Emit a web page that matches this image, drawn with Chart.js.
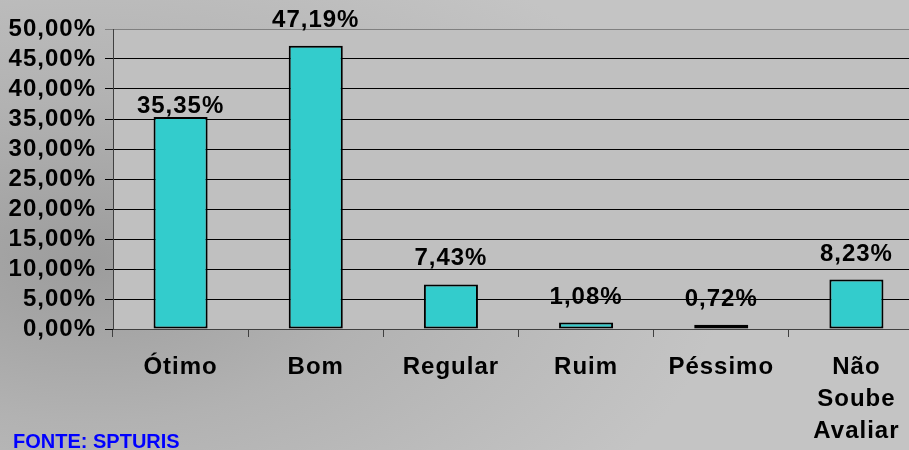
<!DOCTYPE html>
<html>
<head>
<meta charset="utf-8">
<script src="https://cdn.jsdelivr.net/npm/chart.js@4"></script>
<style>
  html, body { margin: 0; padding: 0; width: 909px; height: 450px; overflow: hidden; }
  #wrap { position: relative; width: 909px; height: 450px; overflow: hidden;
    background: radial-gradient(ellipse 70% 80% at 10% 58%, #9c9c9c 0%, #b2b2b2 45%, #c4c4c4 100%); }
  #c { position: absolute; left: 0; top: 0; }
  #fonte { position: absolute; left: 13px; top: 431px; font: bold 20px "Liberation Sans", Arial, sans-serif;
    line-height: 20px; color: #0000ff; letter-spacing: 0px; white-space: nowrap; }
</style>
</head>
<body>
<div id="wrap">
  <canvas id="c" width="924" height="450"></canvas>
  <div id="fonte">FONTE: SPTURIS</div>
</div>
<script>
const categories = ['Ótimo', 'Bom', 'Regular', 'Ruim', 'Péssimo', ['Não', 'Soube', 'Avaliar']];
const values = [35.35, 47.19, 7.43, 1.08, 0.72, 8.23];
const yTickValues = [0, 5, 10, 15, 20, 25, 30, 35, 40, 45, 50];

const labelGap = [4, 19, 19, 19, 19, 19];
const FONT = '"Liberation Sans", Arial, sans-serif';

function fmt(v) { return v.toFixed(2).replace('.', ',') + '%'; }

const plotBg = {
  id: 'plotBg',
  beforeDraw(chart) {
    const { ctx, chartArea: a } = chart;
    ctx.letterSpacing = '1px';
    ctx.save();
    ctx.fillStyle = '#c0c0c0';
    ctx.fillRect(a.left, a.top, a.right - a.left, a.bottom - a.top);
    ctx.restore();
  }
};

const dataLabels = {
  id: 'dataLabels',
  afterDatasetsDraw(chart) {
    const { ctx } = chart;
    const meta = chart.getDatasetMeta(0);
    ctx.save();
    ctx.letterSpacing = '1px';
    ctx.font = 'bold 24px ' + FONT;
    ctx.fillStyle = '#000';
    ctx.textAlign = 'center';
    ctx.textBaseline = 'alphabetic';
    meta.data.forEach((bar, i) => {
      ctx.fillText(fmt(values[i]), bar.x, bar.y - labelGap[i]);
    });
    ctx.restore();
  }
};

new Chart(document.getElementById('c'), {
  type: 'bar',
  data: {
    labels: categories,
    datasets: [{
      data: values,
      backgroundColor: '#33cccc',
      borderColor: '#000',
      borderWidth: 2,
      borderSkipped: false,
      categoryPercentage: 1,
      barPercentage: 0.4
    }]
  },
  options: {
    responsive: false,
    devicePixelRatio: 1,
    animation: false,
    layout: { padding: { top: 29, right: 0, left: 0, bottom: 0 } },
    plugins: { legend: { display: false }, tooltip: { enabled: false } },
    scales: {
      x: {
        grid: { offset: true, drawOnChartArea: false, drawTicks: true, tickLength: 8, color: '#404040' },
        border: { color: '#404040', width: 1 },
        ticks: { color: '#000', font: { family: FONT, size: 24, weight: 'bold', lineHeight: 1.333 }, padding: 14, maxRotation: 0, autoSkip: false },
        afterFit(s) { s.height = 121; }
      },
      y: {
        min: 0, max: 50,
        afterBuildTicks(s) { s.ticks = yTickValues.map(v => ({ value: v })); },
        grid: { color: (c) => (c.tick && c.tick.value === 50 ? '#808080' : '#000'), lineWidth: 1, tickLength: 8, drawTicks: true },
        border: { color: '#404040', width: 1 },
        ticks: { color: '#000', font: { family: FONT, size: 24, weight: 'bold' }, padding: 9, autoSkip: false, callback: (v) => fmt(v) },
        afterFit(s) { s.width = 113; }
      }
    }
  },
  plugins: [plotBg, dataLabels]
});
</script>
</body>
</html>
